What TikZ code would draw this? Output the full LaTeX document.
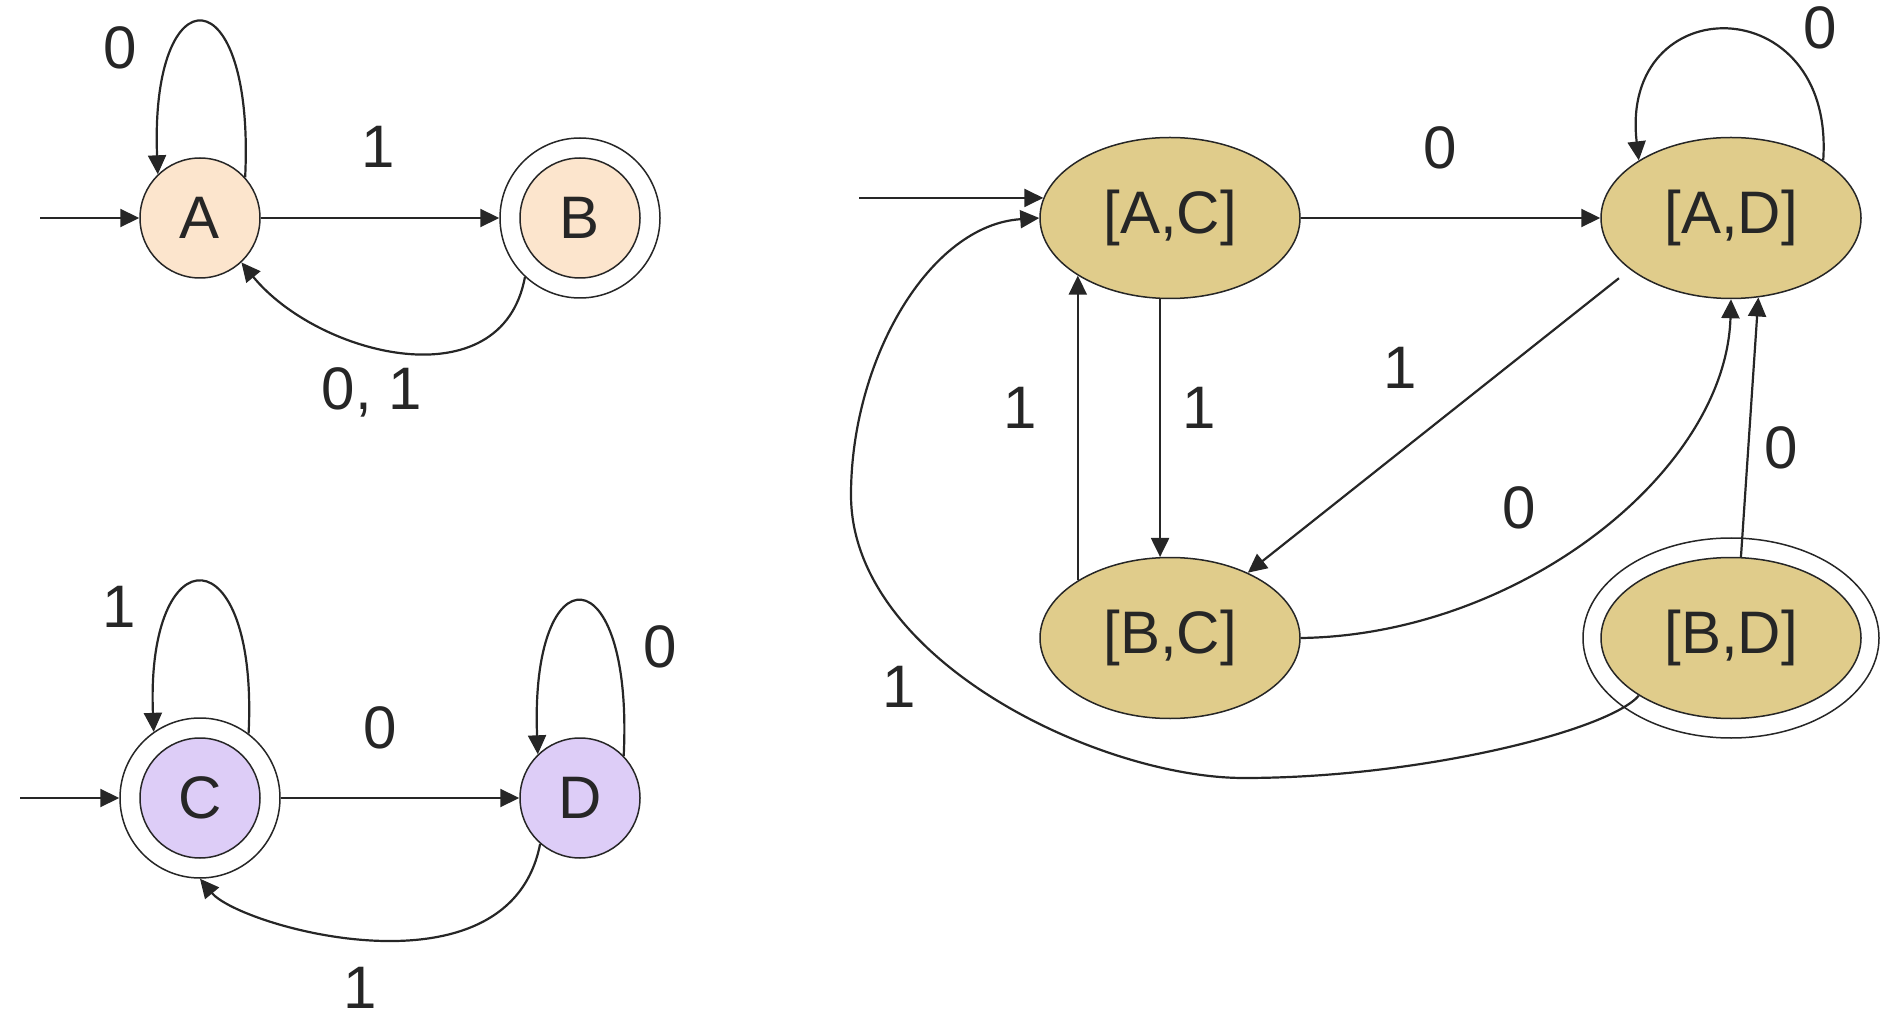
\documentclass[tikz,border=0pt]{standalone}
\usepackage{fontspec}
\setmainfont{Liberation Sans}
\usepackage{tikz}
\usetikzlibrary{shapes.geometric, arrows.meta}

\definecolor{peach}{HTML}{FCE5CD}
\definecolor{lilac}{HTML}{DDCDF7}
\definecolor{sand}{HTML}{E0CC8B}
\definecolor{ink}{HTML}{262626}

\tikzset{
  dfa/.style={draw=ink, circle, line width=0.75pt, minimum size=60pt, inner sep=0pt,
    text=ink, font=\fontsize{30}{36}\selectfont},
  ring/.style={draw=ink, circle, line width=0.75pt, fill=white, minimum size=80pt, inner sep=0pt},
  pair/.style={draw=ink, ellipse, fill=sand, line width=0.75pt, minimum width=130pt,
    minimum height=80.5pt, inner sep=0pt, text=ink, font=\fontsize{30}{36}\selectfont},
  pairring/.style={draw=ink, ellipse, fill=white, line width=0.75pt, minimum width=148pt,
    minimum height=100pt, inner sep=0pt},
  arr/.style={draw=ink, line width=1.1pt, -{Triangle[length=9.5pt,width=9pt]}},
  lbl/.style={text=ink, inner sep=0pt, text height=21.5pt, text depth=0pt,
    font=\fontsize{30}{36}\selectfont}
}

\begin{document}
\begin{tikzpicture}[x=0.5pt, y=-0.5pt]
\useasboundingbox (0,0) rectangle (1896,1026);

% automaton for A, B
\node[ring] (Bring) at (580,218) {};
\node[dfa, fill=peach] (A) at (200,218) {A};
\node[dfa, fill=peach] (B) at (580,218) {B};
\coordinate (startA) at (40,218);

\draw[arr] (startA) -- (A);
\draw[arr] (A) -- (Bring);
\draw[arr] (A.42) .. controls +(10,-205) and +(-8,-203) .. (A.134);
\draw[arr] (Bring.-133) .. controls +(-23,125) and +(77,94) .. (A.-47);

\node[lbl] (lab-aa) at (120,47) {0};
\node[lbl] (lab-ab) at (378,146) {1};
\node[lbl] (lab-ba) at (372,388) {0, 1};

% automaton for C, D
\node[ring] (Cring) at (200,798) {};
\node[dfa, fill=lilac] (C) at (200,798) {C};
\node[dfa, fill=lilac] (D) at (580,798) {D};
\coordinate (startC) at (20,798);

\draw[arr] (startC) -- (Cring);
\draw[arr] (Cring) -- (D);
\draw[arr] (Cring.53) .. controls +(10,-201) and +(-8,-199) .. (Cring.125);
\draw[arr] (D.44) .. controls +(10,-204) and +(-8,-204) .. (D.134);
\draw[arr] (D.-131) .. controls +(-31,159) and +(40,48) .. (Cring.-90);

\node[lbl] (lab-cc) at (119,606) {1};
\node[lbl] (lab-cd) at (380,727) {0};
\node[lbl] (lab-dd) at (660,646) {0};
\node[lbl] (lab-dc) at (360,987) {1};

% product automaton
\node[pair] (AC) at (1170,218) {[A,C]};
\node[pair] (AD) at (1731,218) {[A,D]};
\node[pair] (BC) at (1170,638) {[B,C]};
\node[pairring] (BDring) at (1731,638) {};
\node[pair] (BD) at (1731,638) {[B,D]};
\coordinate (startAC) at ([xshift=-92pt]AC.171);

\draw[arr] (startAC) -- (AC.171);
\draw[arr] (AC) -- (AD);
\draw[arr] (AD.32) .. controls +(12,-173) and +(-20,-173) .. (AD.148);
\draw[arr] (AC.-97) -- (BC.97);
\draw[arr] (BC.148) -- (AC.212);
\draw[arr, shorten <=7pt] (AD.207) -- (BC.40);
\draw[arr] (BC.east) .. controls +(219,-3) and +(-5,172) .. (AD.south);
\draw[arr] (BD.83) -- (AD.-71);
\draw[arr] (BD.-148) .. controls +(-30,35) and +(176,0) .. (1244,778)
  .. controls +(-144,0) and +(0,165) .. (851,495)
  .. controls +(0,-135) and +(-110,7) .. (AC.west);

\node[lbl] (lab-acad) at (1440,147) {0};
\node[lbl] (lab-adad) at (1820,27) {0};
\node[lbl] (lab-acbc) at (1199,407) {1};
\node[lbl] (lab-bcac) at (1020,407) {1};
\node[lbl] (lab-adbc) at (1400,367) {1};
\node[lbl] (lab-bcad) at (1519,507) {0};
\node[lbl] (lab-bdad) at (1781,447) {0};
\node[lbl] (lab-bdac) at (899,686) {1};
\end{tikzpicture}
\end{document}
